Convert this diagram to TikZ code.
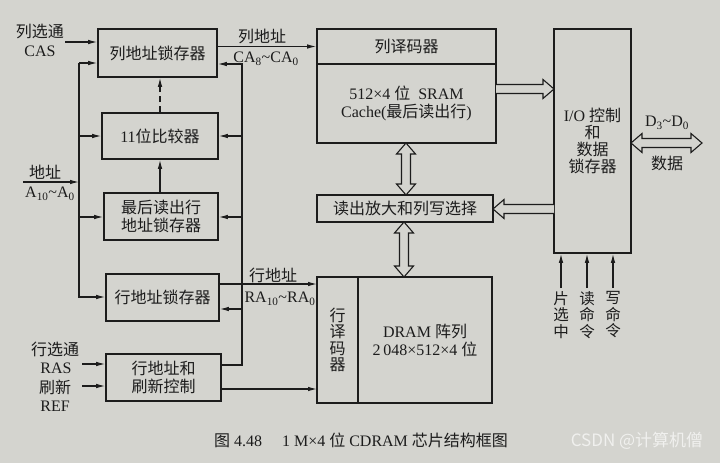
\documentclass[tikz,border=0pt]{standalone}
\usepackage{fontspec}
\setmainfont{Liberation Serif}
\newfontfamily\zh{Noto Sans CJK SC}
\usetikzlibrary{arrows.meta}
\definecolor{bg}{RGB}{212,212,207}
\definecolor{ink}{RGB}{28,28,28}
\definecolor{wm}{RGB}{240,240,238}
\tikzset{
  blk/.style={draw=ink, line width=1.6pt, inner sep=0pt, align=center, text=ink},
  arr/.style={draw=ink, line width=1.1pt, -{Latex[length=9pt,width=4.5pt]}},
  hollow/.style={draw=ink, line width=1.1pt, fill=bg, line join=miter},
  lbl/.style={text=ink, inner sep=0pt, align=center},
  vlbl/.style={lbl, anchor=north, font=\zh\fontsize{15.5}{16.7}\selectfont},
}
\newcommand\hollowone[4]{%
  \begin{scope}[shift={(#1,#2)},rotate=#3]
    \draw[hollow] (0,-4.5) -- ({#4-11},-4.5) -- ({#4-11},-9.5) -- (#4,0) -- ({#4-11},9.5) -- ({#4-11},4.5) -- (0,4.5);
  \end{scope}}
\newcommand\hollowtwo[4]{%
  \begin{scope}[shift={(#1,#2)},rotate=#3]
    \draw[hollow] (0,0) -- (11,-9.5) -- (11,-4.5) -- ({#4-11},-4.5) -- ({#4-11},-9.5) -- (#4,0) -- ({#4-11},9.5) -- ({#4-11},4.5) -- (11,4.5) -- (11,9.5) -- cycle;
  \end{scope}}
\begin{document}
\begin{tikzpicture}[x=1pt,y=-1pt, font=\fontsize{16}{18}\selectfont]
\fill[bg] (0,0) rectangle (720,463);
\useasboundingbox (0,0) rectangle (720,463);

% ---- left column blocks
\node[blk, minimum width=119pt, minimum height=48pt] (colLatch) at (157.5,53) {\zh 列地址锁存器};
\node[blk, minimum width=116pt, minimum height=46pt] (cmp) at (160,136) {11{\zh 位比较器}};
\node[blk, minimum width=114pt, minimum height=47pt] (lastRow) at (161,216.5) {\zh 最后读出行\\\zh 地址锁存器};
\node[blk, minimum width=113pt, minimum height=47pt] (rowLatch) at (162.5,297.5) {\zh 行地址锁存器};
\node[blk, minimum width=115pt, minimum height=47pt] (rowCtl) at (163.5,377.5) {\zh 行地址和\\\zh 刷新控制};

% ---- middle blocks
\node[blk, minimum width=179pt, minimum height=35pt] (colDec) at (406.5,46.5) {\zh 列译码器};
\node[blk, minimum width=179pt, minimum height=79pt] (sram) at (406.5,103.5) {512×4 {\zh 位}\ \ SRAM\\Cache({\zh 最后读出行})};
\node[blk, minimum width=176pt, minimum height=27pt] (sense) at (405,208.5) {\zh 读出放大和列写选择};
\node[blk, minimum width=41pt, minimum height=126pt, font=\zh\fontsize{16}{16.5}\selectfont] (rowDec) at (337.5,340) {行\\译\\码\\器};
\node[blk, minimum width=134pt, minimum height=126pt] (dram) at (425,340) {DRAM {\zh 阵列}\\2\,048×512×4 {\zh 位}};

% ---- right block
\node[blk, minimum width=77pt, minimum height=224pt, font=\fontsize{16}{16.8}\selectfont] (io) at (592.5,141) {I/O {\zh 控制}\\{\zh 和}\\{\zh 数据}\\{\zh 锁存器}};

% ---- left bus
\coordinate (lb1) at (79,63);
\coordinate (lb2) at (79,136);
\coordinate (lb3) at (79,217);
\coordinate (lb4) at (79,297);
\coordinate (lbA) at (79,182);
\draw[arr] (lb1) -- (lb4) -- (lb4 -| rowLatch.west);
\draw[arr] (lb1) -- (lb1 -| colLatch.west);
\draw[arr] (lb2) -- (lb2 -| cmp.west);
\draw[arr] (lb3) -- (lb3 -| lastRow.west);
\coordinate (addrIn) at (23,182);
\draw[arr] (addrIn) -- (lbA);
\node[lbl] (addrL) at (45,172) {\zh 地址};
\node[lbl] (addrA) at (50,194) {A\textsubscript{10}\char`\~A\textsubscript{0}};

% ---- right bus
\coordinate (rb0) at (242,365);
\coordinate (rb1) at (242,64);
\coordinate (rb2) at (242,136);
\coordinate (rb3) at (242,217);
\coordinate (rb4) at (242,309);
\draw[arr] (rb0 -| rowCtl.east) -- (rb0) -- (rb1) -- (rb1 -| colLatch.east);
\draw[arr] (rb2) -- (rb2 -| cmp.east);
\draw[arr] (rb3) -- (rb3 -| lastRow.east);
\draw[arr] (rb4) -- (rb4 -| rowLatch.east);

% ---- vertical between left blocks
\draw[arr] (lastRow.north -| cmp.south) -- (cmp.south);
\draw[arr, dashed, dash pattern=on 6pt off 4pt] (cmp.north) -- (cmp.north |- colLatch.south);

% ---- CAS input
\coordinate (casIn) at (65,42);
\draw[arr] (casIn) -- (casIn -| colLatch.west);
\node[lbl] (casL1) at (40,31) {\zh 列选通};
\node[lbl] (casL2) at (40,51) {CAS};

% ---- RAS / REF inputs
\coordinate (rasIn) at (82,364);
\coordinate (refIn) at (82,386);
\draw[arr] (rasIn) -- (rasIn -| rowCtl.west);
\draw[arr] (refIn) -- (refIn -| rowCtl.west);
\node[lbl] (rasL1) at (55,349) {\zh 行选通};
\node[lbl] (rasL2) at (56,368) {RAS};
\node[lbl] (refL1) at (55,387) {\zh 刷新};
\node[lbl] (refL2) at (55,406) {REF};

% ---- column address
\draw[arr] (colLatch.east |- colDec.west) -- (colDec.west);
\node[lbl] (caL1) at (262,36) {\zh 列地址};
\node[lbl] (caL2) at (266,59) {CA\textsubscript{8}\char`\~CA\textsubscript{0}};

% ---- row address
\coordinate (ra) at (317,284);
\coordinate (rc) at (317,389);
\draw[arr] (ra -| rowLatch.east) -- (ra);
\draw[arr] (rc -| rowCtl.east) -- (rc);
\node[lbl] (raL1) at (273,275) {\zh 行地址};
\node[lbl] (raL2) at (280,299) {RA\textsubscript{10}\char`\~RA\textsubscript{0}};

% ---- hollow (bus) arrows
\hollowone{496}{89}{0}{58}
\hollowone{554}{209}{180}{61}
\hollowtwo{406}{143}{-90}{52}
\hollowtwo{404}{222}{-90}{55}
\hollowtwo{631}{143}{0}{71}
\node[lbl] (dL1) at (667,123) {D\textsubscript{3}\char`\~D\textsubscript{0}};
\node[lbl] (dL2) at (667,163) {\zh 数据};

% ---- control inputs into I/O
\coordinate (cs) at (561,288);
\coordinate (rd) at (587,288);
\coordinate (wr) at (613,288);
\draw[arr] (cs) -- (cs |- io.south);
\draw[arr] (rd) -- (rd |- io.south);
\draw[arr] (wr) -- (wr |- io.south);
\node[vlbl] (csL) at (561,291) {片\\选\\中};
\node[vlbl] (rdL) at (587,291) {读\\命\\令};
\node[vlbl] (wrL) at (613,291) {写\\命\\令};

% ---- caption and watermark
\node[lbl, font=\fontsize{16}{18}\selectfont] (cap) at (361,440) {{\zh 图}\ 4.48\hspace{20pt}1\ M×4\ {\zh 位}\ CDRAM\ {\zh 芯片结构框图}};
\node[lbl, text=wm, font=\zh\fontsize{17}{19}\selectfont] (wmk) at (637,441) {CSDN @计算机僧};
\end{tikzpicture}
\end{document}
